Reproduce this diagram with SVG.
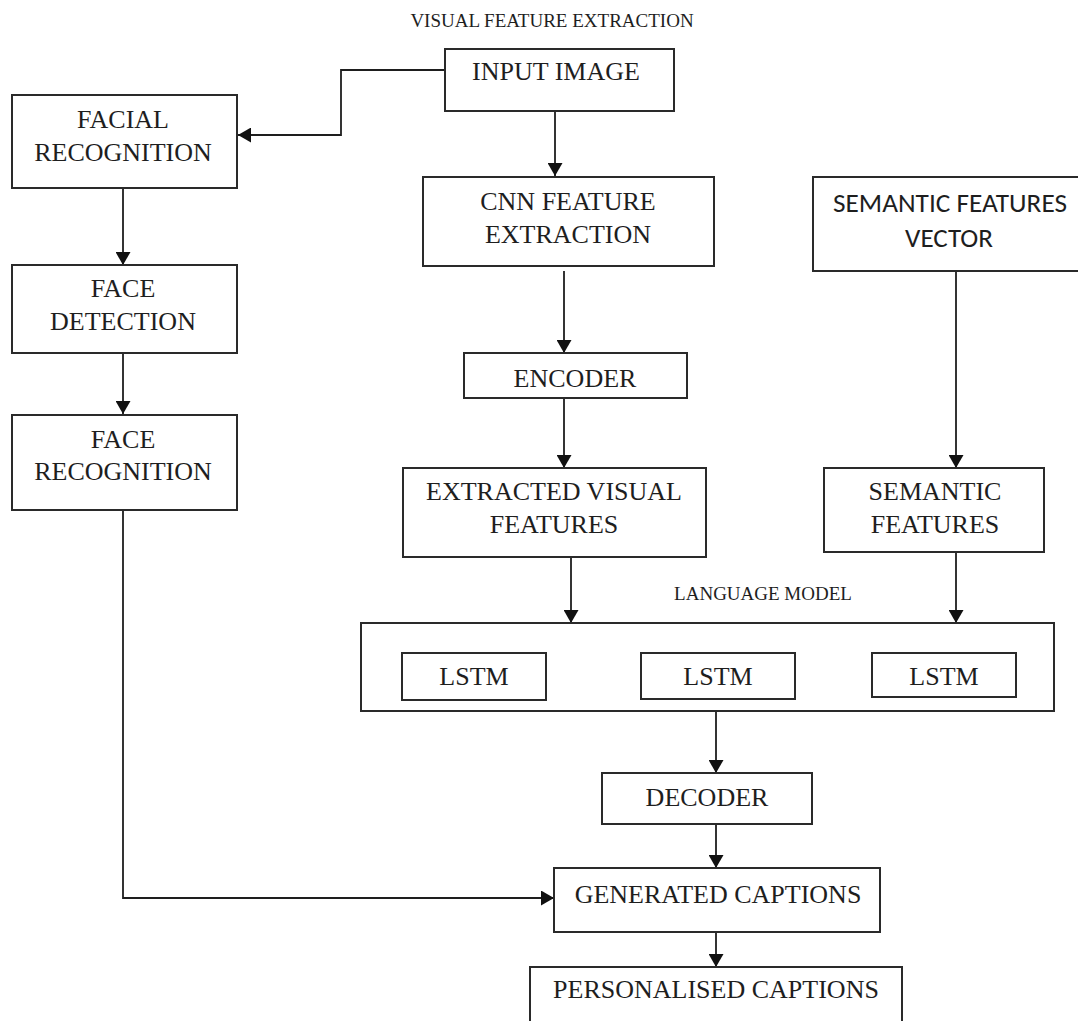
<svg xmlns="http://www.w3.org/2000/svg" width="1078" height="1021" viewBox="0 0 1078 1021">
  <style>
    .box { fill: #ffffff; stroke: #2a2a2a; stroke-width: 2; }
    .lbl { font-family: "Liberation Serif", "Times New Roman", serif; font-size: 26px; fill: #1e1e1e; text-anchor: middle; }
    .cap { font-family: "Liberation Serif", "Times New Roman", serif; font-size: 19px; fill: #1e1e1e; text-anchor: middle; }
    .sans { font-family: Carlito, Lato, "Liberation Sans", sans-serif; font-size: 27px; fill: #1e1e1e; text-anchor: middle; }
    .wire { fill: none; stroke: #1e1e1e; stroke-width: 1.8; }
    .arrow { marker-end: url(#head); }
  </style>
  <defs>
    <marker id="head" markerUnits="userSpaceOnUse" markerWidth="14" markerHeight="15" refX="13" refY="7.5" orient="auto">
      <path d="M0,0 L13,7.5 L0,15 z" fill="#111"/>
    </marker>
  </defs>

  <rect width="1078" height="1021" fill="#ffffff"/>

  <!-- section headings -->
  <text class="cap" x="552" y="27">VISUAL FEATURE EXTRACTION</text>
  <text class="cap" x="763" y="600">LANGUAGE MODEL</text>

  <!-- connectors -->
  <g id="connectors">
    <path class="wire arrow" d="M445,70 H341 V135 H238"/>
    <path class="wire arrow" d="M555,111 V176"/>
    <path class="wire arrow" d="M123,188 V265"/>
    <path class="wire arrow" d="M123,353 V414"/>
    <path class="wire arrow" d="M564,271 V353"/>
    <path class="wire arrow" d="M564,398 V468"/>
    <path class="wire arrow" d="M956,271 V468"/>
    <path class="wire arrow" d="M571,557 V623"/>
    <path class="wire arrow" d="M956,552 V623"/>
    <path class="wire arrow" d="M716,711 V773"/>
    <path class="wire arrow" d="M716,824 V868"/>
    <path class="wire arrow" d="M123,510 V898 H554"/>
    <path class="wire arrow" d="M716,932 V967"/>
  </g>

  <g id="input-image">
    <rect class="box" x="445" y="49" width="229" height="62"/>
    <text class="lbl" x="556" y="80">INPUT IMAGE</text>
  </g>

  <g id="facial-recognition">
    <rect class="box" x="12" y="95" width="225" height="93"/>
    <text class="lbl" x="123" y="128">FACIAL</text>
    <text class="lbl" x="123" y="161">RECOGNITION</text>
  </g>

  <g id="cnn-feature-extraction">
    <rect class="box" x="423" y="177" width="291" height="89"/>
    <text class="lbl" x="568" y="210">CNN FEATURE</text>
    <text class="lbl" x="568" y="243">EXTRACTION</text>
  </g>

  <g id="semantic-features-vector">
    <rect class="box" x="813" y="177" width="280" height="94"/>
    <text class="sans" x="950" y="212" textLength="234" lengthAdjust="spacingAndGlyphs">SEMANTIC FEATURES</text>
    <text class="sans" x="949" y="247" textLength="88" lengthAdjust="spacingAndGlyphs">VECTOR</text>
  </g>

  <g id="face-detection">
    <rect class="box" x="12" y="265" width="225" height="88"/>
    <text class="lbl" x="123" y="297">FACE</text>
    <text class="lbl" x="123" y="330">DETECTION</text>
  </g>

  <g id="encoder">
    <rect class="box" x="464" y="353" width="223" height="45"/>
    <text class="lbl" x="575" y="387">ENCODER</text>
  </g>

  <g id="face-recognition">
    <rect class="box" x="12" y="415" width="225" height="95"/>
    <text class="lbl" x="123" y="448">FACE</text>
    <text class="lbl" x="123" y="480">RECOGNITION</text>
  </g>

  <g id="extracted-visual-features">
    <rect class="box" x="403" y="468" width="303" height="89"/>
    <text class="lbl" x="554" y="500">EXTRACTED VISUAL</text>
    <text class="lbl" x="554" y="533">FEATURES</text>
  </g>

  <g id="semantic-features">
    <rect class="box" x="824" y="468" width="220" height="84"/>
    <text class="lbl" x="935" y="500">SEMANTIC</text>
    <text class="lbl" x="935" y="533">FEATURES</text>
  </g>

  <g id="language-model">
    <rect class="box" x="361" y="623" width="693" height="88"/>
  </g>

  <g id="lstm-1">
    <rect class="box" x="402" y="653" width="144" height="47"/>
    <text class="lbl" x="474" y="685">LSTM</text>
  </g>

  <g id="lstm-2">
    <rect class="box" x="641" y="653" width="154" height="46"/>
    <text class="lbl" x="718" y="685">LSTM</text>
  </g>

  <g id="lstm-3">
    <rect class="box" x="872" y="653" width="144" height="44"/>
    <text class="lbl" x="944" y="685">LSTM</text>
  </g>

  <g id="decoder">
    <rect class="box" x="602" y="773" width="210" height="51"/>
    <text class="lbl" x="707" y="806">DECODER</text>
  </g>

  <g id="generated-captions">
    <rect class="box" x="554" y="868" width="326" height="64"/>
    <text class="lbl" x="718" y="903">GENERATED CAPTIONS</text>
  </g>

  <g id="personalised-captions">
    <rect class="box" x="530" y="967" width="372" height="70"/>
    <text class="lbl" x="716" y="998">PERSONALISED CAPTIONS</text>
  </g>
</svg>
